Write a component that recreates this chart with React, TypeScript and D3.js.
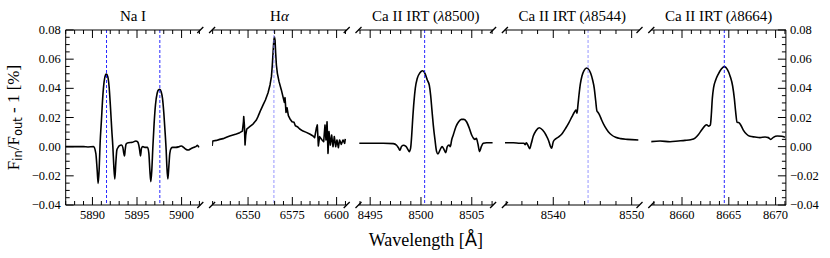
import React from 'react'
import * as d3 from 'd3'

// transit spectra, Fin/Fout - 1 [%] read per panel
const naWave = [5887.0, 5887.5, 5888.0, 5888.5, 5889.0, 5889.5, 5890.12, 5890.38, 5890.53, 5890.64, 5890.75, 5890.86, 5891.01, 5891.16, 5891.31, 5891.46, 5891.57, 5891.72, 5891.87, 5892.02, 5892.17, 5892.29, 5892.40, 5892.51, 5892.62, 5892.74, 5892.88, 5893.00, 5893.26, 5893.41, 5893.52, 5893.60, 5893.67, 5893.78, 5894.01, 5894.49, 5894.87, 5895.05, 5895.20, 5895.32, 5895.39, 5895.50, 5895.65, 5895.88, 5896.03, 5896.18, 5896.33, 5896.44, 5896.55, 5896.66, 5896.78, 5896.92, 5897.07, 5897.26, 5897.41, 5897.56, 5897.71, 5897.86, 5898.01, 5898.16, 5898.27, 5898.35, 5898.46, 5898.57, 5898.68, 5898.83, 5898.98, 5899.36, 5899.73, 5899.99, 5900.22, 5900.48, 5900.74, 5901.04, 5901.34, 5901.60, 5901.79, 5901.94]
const naFlux = [0.0, 0.0, 0.0, 0.0, 0.0, -0.0002, 0.0, -0.0046, -0.016, -0.0252, -0.016, 0.0023, 0.0183, 0.0343, 0.0446, 0.0491, 0.0498, 0.048, 0.0411, 0.0274, 0.0114, 0.0, -0.0137, -0.0222, -0.0114, -0.0023, -0.0005, 0.0005, 0.0011, -0.0005, -0.0046, -0.0064, -0.0023, 0.0018, 0.0027, 0.003, 0.0039, 0.0034, 0.0011, -0.0034, -0.0064, -0.0011, 0.0, -0.0005, -0.0005, -0.0005, -0.0046, -0.016, -0.024, -0.016, 0.0, 0.016, 0.0286, 0.0366, 0.0389, 0.0393, 0.0377, 0.0331, 0.0229, 0.0091, -0.0023, -0.0137, -0.0222, -0.0137, -0.0046, -0.0011, -0.0005, -0.0005, 0.0, 0.0005, -0.0005, -0.0018, -0.0023, -0.0014, -0.0005, 0.0, 0.0009, -0.0005]

const haWave = [6529.7, 6530.06, 6532.13, 6534.0, 6535.9, 6537.8, 6539.65, 6541.5, 6543.4, 6545.3, 6546.8, 6547.4, 6547.56, 6547.93, 6548.3, 6548.7, 6549.25, 6550.94, 6552.8, 6554.7, 6555.6, 6556.6, 6557.15, 6558.5, 6559.8, 6561.3, 6562.4, 6563.2, 6563.7, 6564.1, 6564.5, 6564.86, 6565.24, 6565.6, 6566.0, 6566.55, 6567.5, 6568.8, 6569.94, 6570.5, 6570.88, 6571.44, 6572.0, 6572.76, 6573.7, 6574.83, 6575.96, 6576.7, 6577.84, 6579.16, 6581.04, 6582.9, 6584.8, 6586.7, 6587.6, 6588.56, 6589.1, 6589.7, 6590.4, 6591.8, 6592.7, 6593.45, 6594.0, 6594.6, 6595.15, 6595.7, 6596.46, 6597.2, 6597.97, 6598.7, 6599.5, 6600.2, 6601.0, 6601.7, 6602.67, 6603.6, 6604.55, 6604.9]
const haFlux = [0.0005, 0.0039, 0.0043, 0.005, 0.0055, 0.0064, 0.0073, 0.008, 0.0087, 0.0096, 0.0107, 0.0171, 0.0206, 0.0149, 0.0011, 0.008, 0.0121, 0.0137, 0.0155, 0.0183, 0.0206, 0.0235, 0.0251, 0.0286, 0.032, 0.037, 0.0423, 0.048, 0.056, 0.064, 0.072, 0.0752, 0.0731, 0.064, 0.056, 0.0503, 0.0446, 0.0389, 0.0331, 0.0304, 0.0336, 0.0235, 0.0267, 0.0213, 0.019, 0.0171, 0.0167, 0.0144, 0.0137, 0.0121, 0.0107, 0.0098, 0.0087, 0.0073, 0.0062, 0.0126, 0.0149, 0.0005, 0.0069, 0.0046, 0.0034, 0.0149, 0.0046, 0.0171, -0.0046, 0.0103, 0.0011, 0.008, 0.0, 0.0069, 0.0, 0.0046, -0.0007, 0.0046, 0.0016, 0.0046, 0.0023, 0.0053]

const ca1Wave = [8493.93, 8494.98, 8496.29, 8497.28, 8497.6, 8497.8, 8497.93, 8498.06, 8498.26, 8498.52, 8498.72, 8498.85, 8498.98, 8499.08, 8499.18, 8499.31, 8499.44, 8499.64, 8499.9, 8500.16, 8500.39, 8500.62, 8500.82, 8500.95, 8501.08, 8501.21, 8501.38, 8501.54, 8501.67, 8501.87, 8502.07, 8502.26, 8502.43, 8502.59, 8502.76, 8502.89, 8503.02, 8503.18, 8503.44, 8503.71, 8503.97, 8504.23, 8504.5, 8504.76, 8504.99, 8505.18, 8505.31, 8505.45, 8505.61, 8505.77, 8505.94, 8506.13, 8506.46, 8507.05]
const ca1Flux = [0.0023, 0.0023, 0.0023, 0.0021, 0.001, -0.001, -0.0025, -0.0002, 0.001, 0.0002, -0.002, -0.0034, -0.001, 0.007, 0.0184, 0.0309, 0.04, 0.0469, 0.0507, 0.0521, 0.0503, 0.0457, 0.0421, 0.0354, 0.0251, 0.0149, 0.0046, -0.0034, -0.005, -0.0023, 0.0, -0.0018, -0.0041, 0.0, 0.0011, 0.0, 0.0046, 0.008, 0.0137, 0.0171, 0.0187, 0.0187, 0.0169, 0.0126, 0.008, 0.0057, 0.005, 0.0057, 0.0018, -0.0034, 0.0, 0.0023, 0.0027, 0.0027]

const ca2Wave = [8533.84, 8534.9, 8535.75, 8536.26, 8536.43, 8536.56, 8536.77, 8536.99, 8537.2, 8537.45, 8537.79, 8538.22, 8538.64, 8539.07, 8539.41, 8539.62, 8539.79, 8540.0, 8540.3, 8540.73, 8541.15, 8541.58, 8542.0, 8542.39, 8542.73, 8542.9, 8543.02, 8543.15, 8543.28, 8543.45, 8543.66, 8543.92, 8544.26, 8544.51, 8544.77, 8545.02, 8545.23, 8545.4, 8545.57, 8545.74, 8545.91, 8546.17, 8546.59, 8547.02, 8547.45, 8547.96, 8548.59, 8549.44, 8550.85]
const ca2Flux = [0.0027, 0.0027, 0.0023, 0.0023, 0.0014, 0.0027, 0.0009, -0.0014, 0.0023, 0.0073, 0.0109, 0.013, 0.0114, 0.008, 0.0041, 0.0005, -0.0011, 0.0034, 0.0053, 0.0069, 0.0091, 0.0126, 0.0165, 0.0206, 0.024, 0.0251, 0.0229, 0.0286, 0.0354, 0.0429, 0.0485, 0.0521, 0.0539, 0.053, 0.0503, 0.0457, 0.04, 0.032, 0.0245, 0.0233, 0.0217, 0.0183, 0.0137, 0.0103, 0.008, 0.0064, 0.0055, 0.005, 0.0046]

const ca3Wave = [8656.65, 8657.65, 8658.72, 8659.61, 8660.32, 8660.93, 8661.39, 8661.74, 8662.1, 8662.42, 8662.64, 8662.85, 8663.03, 8663.13, 8663.24, 8663.38, 8663.6, 8663.88, 8664.2, 8664.52, 8664.84, 8665.16, 8665.41, 8665.59, 8665.73, 8665.88, 8666.05, 8666.27, 8666.55, 8666.91, 8667.26, 8667.8, 8668.33, 8668.87, 8669.22, 8669.47, 8669.76, 8670.18, 8670.65, 8671.0]
const ca3Flux = [0.0034, 0.0039, 0.0034, 0.0039, 0.0043, 0.0048, 0.0059, 0.0082, 0.0114, 0.0141, 0.015, 0.0141, 0.0149, 0.0217, 0.0331, 0.0407, 0.0457, 0.0498, 0.0533, 0.0549, 0.053, 0.048, 0.0416, 0.0331, 0.024, 0.0167, 0.0165, 0.0149, 0.0114, 0.0085, 0.0071, 0.0066, 0.0062, 0.0066, 0.0062, 0.005, 0.0064, 0.0073, 0.0071, 0.0064]

const yTicks = [-0.04, -0.02, 0.0, 0.02, 0.04, 0.06, 0.08]

const panels = [
  { wave: naWave, flux: naFlux, domain: [5887.0, 5902.1], major: [5890, 5895, 5900], minorStep: 1, lines: [5891.58, 5897.56], lineColor: '#1010ff', title: 'na' },
  { wave: haWave, flux: haFlux, domain: [6529.7, 6605.7], major: [6550, 6575, 6600], minorStep: 5, lines: [6564.6], lineColor: '#8a8aff', title: 'ha' },
  { wave: ca1Wave, flux: ca1Flux, domain: [8493.85, 8507.1], major: [8495, 8500, 8505], minorStep: 1, lines: [8500.36], lineColor: '#1010ff', title: '8500' },
  { wave: ca2Wave, flux: ca2Flux, domain: [8533.83, 8551.0], major: [8540, 8550], minorStep: 2, lines: [8544.44], lineColor: '#8a8aff', title: '8544' },
  { wave: ca3Wave, flux: ca3Flux, domain: [8656.72, 8671.1], major: [8660, 8665, 8670], minorStep: 1, lines: [8664.52], lineColor: '#1010ff', title: '8664' },
]

const width = 830
const height = 258
const left = 65.7
const panelW = 134.6
const gap = 11.8
const top = 30
const bottom = 205
const serif = 'Liberation Serif, Times New Roman, serif'
const sans = 'DejaVu Sans, sans-serif'

const fmt = (v: number) => d3.format('.2f')(v).replace('-', '\u2212')

function Title({ p, cx }: { p: any; cx: number }) {
  const style = { fontFamily: serif, fontSize: 15 }
  if (p.title === 'na') return <text x={cx} y={21} textAnchor="middle" style={style}>Na I</text>
  if (p.title === 'ha') return (
    <text x={cx} y={21} textAnchor="middle" style={style}>H<tspan fontStyle="italic">α</tspan></text>
  )
  return (
    <text x={cx} y={21} textAnchor="middle" style={style}>
      Ca II IRT (<tspan fontStyle="italic">λ</tspan>{p.title})
    </text>
  )
}

export default function App() {
  const y = d3.scaleLinear().domain([-0.04, 0.08]).range([bottom, top])
  const yMinor = d3.range(-0.04, 0.0801, 0.005)
  const right = left + 5 * panelW + 4 * gap

  return (
    <svg width={width} height={height} style={{ position: 'absolute', left: 0, top: 0, background: '#fff' }}>
      <defs>
        {panels.map((p, i) => {
          const x0 = left + i * (panelW + gap)
          return (
            <clipPath key={i} id={`clip${i}`}>
              <rect x={x0} y={top} width={panelW} height={bottom - top} />
            </clipPath>
          )
        })}
      </defs>

      {panels.map((p, i) => {
        const x0 = left + i * (panelW + gap)
        const x1 = x0 + panelW
        const x = d3.scaleLinear().domain(p.domain).range([x0, x1])
        const minor = d3.range(Math.ceil(p.domain[0] / p.minorStep) * p.minorStep, p.domain[1], p.minorStep)
          .filter(t => !p.major.includes(t))
        const line = d3.line<number>()
          .x((_, k) => x(p.wave[k]))
          .y(d => y(d))
          .curve(i === 1 ? d3.curveLinear : d3.curveMonotoneX)
        const brk = (bx: number, by: number) => (
          <line x1={bx - 3} y1={by + 3} x2={bx + 3} y2={by - 3} stroke="#000" strokeWidth={1.3} />
        )
        return (
          <g key={i}>
            <Title p={p} cx={(x0 + x1) / 2} />
            <g clipPath={`url(#clip${i})`}>
              <path d={line(p.flux) || ''} fill="none" stroke="#000" strokeWidth={1.6} strokeLinejoin="round" />
              {p.lines.map(l => (
                <line key={l} x1={x(l)} x2={x(l)} y1={top} y2={bottom} stroke={p.lineColor} strokeWidth={0.9} strokeDasharray="3,2" />
              ))}
            </g>
            {/* top and bottom spines */}
            <line x1={x0} x2={x1} y1={top} y2={top} stroke="#000" strokeWidth={1} />
            <line x1={x0} x2={x1} y1={bottom} y2={bottom} stroke="#000" strokeWidth={1} />
            {p.major.map(t => (
              <g key={t}>
                <line x1={x(t)} x2={x(t)} y1={bottom} y2={bottom - 8} stroke="#000" />
                <line x1={x(t)} x2={x(t)} y1={top} y2={top + 8} stroke="#000" />
                <text x={x(t)} y={219} textAnchor="middle" style={{ fontFamily: serif, fontSize: 12.5 }}>{t}</text>
              </g>
            ))}
            {minor.map(t => (
              <g key={t}>
                <line x1={x(t)} x2={x(t)} y1={bottom} y2={bottom - 4} stroke="#000" />
                <line x1={x(t)} x2={x(t)} y1={top} y2={top + 4} stroke="#000" />
              </g>
            ))}
            {i > 0 && brk(x0, top)}
            {i > 0 && brk(x0, bottom)}
            {i < 4 && brk(x1, top)}
            {i < 4 && brk(x1, bottom)}
          </g>
        )
      })}

      {/* left and right y axes */}
      <line x1={left} x2={left} y1={top} y2={bottom} stroke="#000" />
      <line x1={right} x2={right} y1={top} y2={bottom} stroke="#000" />
      {yMinor.map(t => {
        const isMajor = Math.abs(Math.round(t / 0.02) * 0.02 - t) < 1e-6
        const len = isMajor ? 8 : 4
        return (
          <g key={t}>
            <line x1={left} x2={left + len} y1={y(t)} y2={y(t)} stroke="#000" />
            <line x1={right} x2={right - len} y1={y(t)} y2={y(t)} stroke="#000" />
          </g>
        )
      })}
      {yTicks.map(t => (
        <g key={t} style={{ fontFamily: serif, fontSize: 12.5 }}>
          <text x={left - 5} y={y(t) + 4} textAnchor="end">{fmt(t)}</text>
          <text x={right + 4} y={y(t) + 4} textAnchor="start">{fmt(t)}</text>
        </g>
      ))}

      <text transform={`translate(19, ${(top + bottom) / 2}) rotate(-90)`} textAnchor="middle" style={{ fontFamily: serif, fontSize: 17 }}>
        F<tspan fontFamily={sans} fontSize={11.5} dy={3}>in</tspan>
        <tspan dy={-3}>/F</tspan>
        <tspan fontFamily={sans} fontSize={11.5} dy={3}>out</tspan>
        <tspan dy={-3}> - 1 [%]</tspan>
      </text>
      <text x={(left + right) / 2} y={246} textAnchor="middle" style={{ fontFamily: serif, fontSize: 18 }}>
        Wavelength [<tspan fontFamily={sans}>Å</tspan>]
      </text>
    </svg>
  )
}
